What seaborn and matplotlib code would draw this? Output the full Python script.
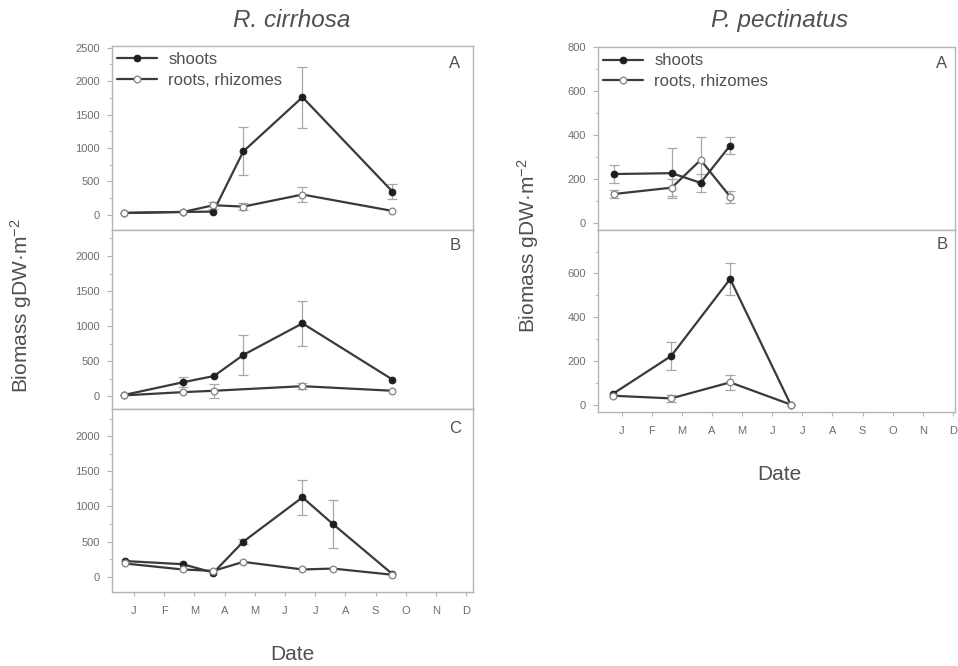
import numpy as np
import pandas as pd
import matplotlib
matplotlib.use("Agg")
import matplotlib.pyplot as plt
import seaborn as sns

# ---------------- data (x = month position, 1 = January) ----------------
month_labels = ["J", "F", "M", "A", "M", "J", "J", "A", "S", "O", "N", "D"]
month_ticks = [1, 2, 3, 4, 5, 6, 7, 8, 9, 10, 11, 12]

# R. cirrhosa - panel A
rcA_t = [0.67, 2.63, 3.63, 4.62, 6.58, 9.56]
rcA_shoots = [30, 45, 50, 950, 1760, 350]
rcA_shoots_err = [0, 0, 0, 360, 455, 110]
rcA_roots = [30, 45, 145, 125, 305, 60]
rcA_roots_err = [0, 0, 55, 50, 115, 0]

# R. cirrhosa - panel B
rcB_t_shoots = [0.67, 2.61, 3.65, 4.62, 6.58, 9.56]
rcB_shoots = [20, 200, 290, 590, 1040, 240]
rcB_shoots_err = [0, 70, 0, 280, 320, 0]
rcB_t_roots = [0.67, 2.61, 3.65, 6.58, 9.56]
rcB_roots = [14, 60, 80, 145, 80]
rcB_roots_err = [0, 0, 100, 47, 0]

# R. cirrhosa - panel C
rcC_t = [0.70, 2.61, 3.63, 4.62, 6.58, 7.59, 9.56]
rcC_shoots = [225, 180, 60, 500, 1130, 750, 40]
rcC_shoots_err = [0, 0, 0, 40, 248, 336, 0]
rcC_roots = [190, 105, 85, 213, 105, 118, 30]
rcC_roots_err = [0, 0, 0, 0, 0, 0, 0]

# P. pectinatus - panel A
ppA_t = [0.74, 2.66, 3.62, 4.60]
ppA_shoots = [222, 226, 182, 352]
ppA_shoots_err = [40, 115, 42, 40]
ppA_roots = [131, 160, 286, 119]
ppA_roots_err = [20, 40, 103, 28]

# P. pectinatus - panel B
ppB_t = [0.72, 2.64, 4.60, 6.61]
ppB_shoots = [53, 224, 575, 3]
ppB_shoots_err = [0, 63, 72, 0]
ppB_roots = [43, 31, 104, 3]
ppB_roots_err = [0, 15, 33, 0]

# ---------------- style ----------------
sns.set_theme(style="white")
plt.rcParams["font.family"] = ["Liberation Sans", "DejaVu Sans"]
plt.rcParams["mathtext.fontset"] = "custom"
plt.rcParams["mathtext.rm"] = "Liberation Sans"
plt.rcParams["mathtext.it"] = "Liberation Sans:italic"

LINE = "#3a3a3a"
ERR = "#a8a8a8"
SPINE = "#b4b4b4"
TICKTXT = "#6e6e6e"
TXT = "#505050"

fig = plt.figure(figsize=(9.58, 6.66), dpi=100)

def style_axes(ax, ylim, yticks, yminor, xlim, show_x):
    ax.set_xlim(*xlim)
    ax.set_ylim(*ylim)
    ax.set_yticks(yticks)
    ax.set_yticks(yminor, minor=True)
    ax.set_yticklabels([str(v) for v in yticks])
    for s in ax.spines.values():
        s.set_color(SPINE)
        s.set_linewidth(1.0)
    ax.tick_params(axis="y", which="major", direction="out", length=3.5, width=0.8,
                   color=SPINE, labelcolor=TICKTXT, labelsize=8, pad=5, left=True)
    ax.tick_params(axis="y", which="minor", direction="out", length=2, width=0.6,
                   color=SPINE, left=True)
    if show_x:
        ax.set_xticks(month_ticks)
        ax.set_xticklabels(month_labels)
        ax.tick_params(axis="x", which="major", direction="out", length=3, width=0.8,
                       color=SPINE, labelcolor=TICKTXT, labelsize=8, pad=7, bottom=True)
    else:
        ax.set_xticks([])
    ax.set_xlabel("")
    ax.set_ylabel("")

def draw(ax, ts, ys, es, tr, yr, er):
    ts_e = [t for t, e in zip(ts, es) if e > 0]
    ys_e = [y for y, e in zip(ys, es) if e > 0]
    es_e = [e for e in es if e > 0]
    tr_e = [t for t, e in zip(tr, er) if e > 0]
    yr_e = [y for y, e in zip(yr, er) if e > 0]
    er_e = [e for e in er if e > 0]
    if es_e:
        ax.errorbar(ts_e, ys_e, yerr=es_e, fmt="none", ecolor=ERR, elinewidth=0.9,
                    capsize=3.5, capthick=0.9, zorder=1)
    if er_e:
        ax.errorbar(tr_e, yr_e, yerr=er_e, fmt="none", ecolor=ERR, elinewidth=0.9,
                    capsize=3.5, capthick=0.9, zorder=1)
    sns.lineplot(x=ts, y=ys, ax=ax, color=LINE, linewidth=1.6, marker="o",
                 markersize=4.8, markerfacecolor="#1e1e1e", markeredgecolor="#1e1e1e",
                 sort=False, label="shoots", zorder=3, legend=False)
    sns.lineplot(x=tr, y=yr, ax=ax, color=LINE, linewidth=1.6, marker="o",
                 markersize=4.8, markerfacecolor="white", markeredgecolor="#8a8a8a",
                 markeredgewidth=1.0, sort=False, label="roots, rhizomes", zorder=3,
                 legend=False)

def letter(ax, s, x, y):
    ax.text(x, y, s, transform=ax.transAxes, ha="center", va="center",
            fontsize=12, color=TXT)

def add_legend(ax):
    ax.legend(loc="upper left", bbox_to_anchor=(-0.015, 1.02), frameon=False,
              fontsize=12, handlelength=2.4, handletextpad=0.7, labelspacing=0.35,
              borderaxespad=0.2, labelcolor=TXT, numpoints=1)

W, H = 958.0, 666.0
def rect(x0, x1, y_top, y_bot):
    return [x0 / W, 1 - y_bot / H, (x1 - x0) / W, (y_bot - y_top) / H]

# left column (R. cirrhosa)
lx = (0.27, 12.23)
axA = fig.add_axes(rect(112, 473, 46, 230))
draw(axA, rcA_t, rcA_shoots, rcA_shoots_err, rcA_t, rcA_roots, rcA_roots_err)
style_axes(axA, (-225, 2525), [0, 500, 1000, 1500, 2000, 2500],
           [250, 750, 1250, 1750, 2250], lx, False)
add_legend(axA)
letter(axA, "A", 0.95, 0.905)

axB = fig.add_axes(rect(112, 473, 230, 409))
draw(axB, rcB_t_shoots, rcB_shoots, rcB_shoots_err, rcB_t_roots, rcB_roots, rcB_roots_err)
style_axes(axB, (-180, 2370), [0, 500, 1000, 1500, 2000],
           [250, 750, 1250, 1750, 2250], lx, False)
letter(axB, "B", 0.95, 0.915)

axC = fig.add_axes(rect(112, 473, 409, 592))
draw(axC, rcC_t, rcC_shoots, rcC_shoots_err, rcC_t, rcC_roots, rcC_roots_err)
style_axes(axC, (-215, 2385), [0, 500, 1000, 1500, 2000],
           [250, 750, 1250, 1750, 2250], lx, True)
letter(axC, "C", 0.95, 0.895)

# right column (P. pectinatus)
rx = (0.21, 12.07)
axD = fig.add_axes(rect(598, 955, 47, 230))
draw(axD, ppA_t, ppA_shoots, ppA_shoots_err, ppA_t, ppA_roots, ppA_roots_err)
style_axes(axD, (-33, 801), [0, 200, 400, 600, 800], [100, 300, 500, 700], rx, False)
add_legend(axD)
letter(axD, "A", 0.963, 0.91)

axE = fig.add_axes(rect(598, 955, 230, 412))
draw(axE, ppB_t, ppB_shoots, ppB_shoots_err, ppB_t, ppB_roots, ppB_roots_err)
style_axes(axE, (-31, 798), [0, 200, 400, 600], [100, 300, 500, 700], rx, True)
letter(axE, "B", 0.963, 0.92)

# titles and axis labels
fig.text(292 / W, 1 - 27 / H, "R. cirrhosa", ha="center", va="baseline",
         fontsize=17.5, fontstyle="italic", color=TXT)
fig.text(780 / W, 1 - 27 / H, "P. pectinatus", ha="center", va="baseline",
         fontsize=17.5, fontstyle="italic", color=TXT)
fig.text(21 / W, 1 - 306 / H, "Biomass gDW·m$^{-2}$", rotation=90, ha="center",
         va="center", fontsize=15, color=TXT)
fig.text(528 / W, 1 - 246 / H, "Biomass gDW·m$^{-2}$", rotation=90, ha="center",
         va="center", fontsize=15, color=TXT)
fig.text(292 / W, 1 - 655 / H, "Date", ha="center", va="center", fontsize=15, color=TXT)
fig.text(779 / W, 1 - 475 / H, "Date", ha="center", va="center", fontsize=15, color=TXT)

fig.savefig("out.png", dpi=100, facecolor="white")
